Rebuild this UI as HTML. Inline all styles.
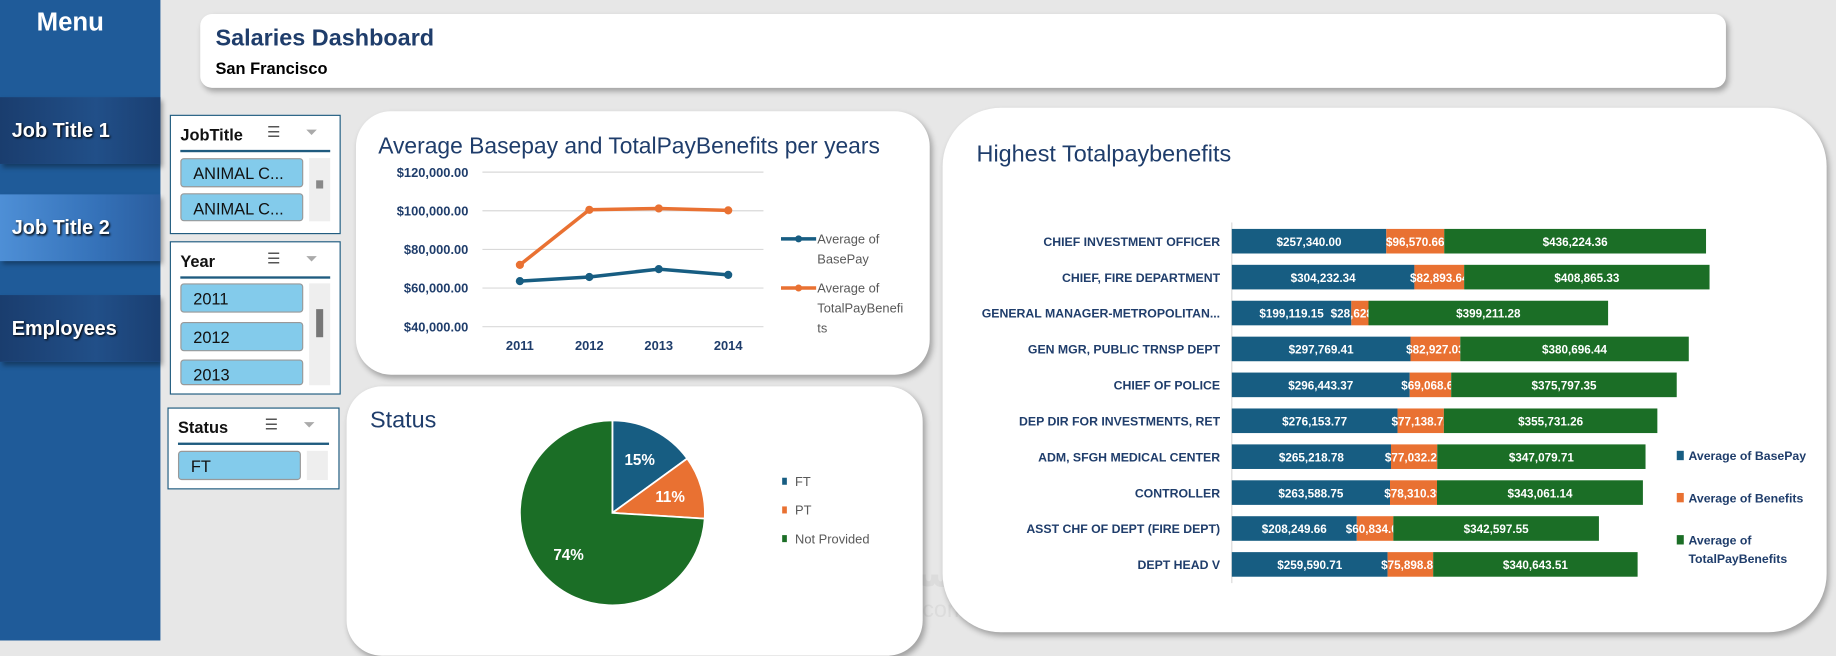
<!DOCTYPE html>
<html><head><meta charset="utf-8">
<style>
html,body{margin:0;padding:0;width:1836px;height:641px;overflow:hidden;background:#e7e7e7;font-family:"Liberation Sans Narrow","Liberation Sans",sans-serif;}
#wrap{position:absolute;left:0;top:0;width:1568px;height:547px;transform:scale(1.17092);transform-origin:0 0;}
.abs{position:absolute;}
.side{left:0;top:0;width:137px;height:547px;background:#1f5b99;}
.menu{left:0;width:120px;top:6px;text-align:center;color:#fff;font-weight:bold;font-size:22px;}
.btn{left:0;width:137px;height:57px;color:#fff;font-weight:bold;font-size:17px;line-height:57px;padding-left:10px;box-sizing:border-box;box-shadow:2px 3px 4px rgba(0,0,0,.35);text-shadow:1px 1px 2px #000;}
.dark{background:linear-gradient(90deg,#1a3d6e,#214f88 60%,#1a3f72);}
.light{background:linear-gradient(90deg,#4e8fd6,#3572b9 60%,#2a5d9e);}
.card{background:#fff;box-shadow:2px 3px 5px rgba(0,0,0,.3);}
.slicer{background:#fff;border:1px solid #1f5b7f;box-sizing:border-box;}
.sh{position:absolute;left:8px;top:8px;font-weight:bold;font-size:14px;color:#111;}
.sl{position:absolute;left:8px;right:8px;top:29px;border-top:2px solid #1f5b7f;}
.item{position:absolute;left:8px;width:105px;height:25px;background:#83cbeb;border:1px solid #999;border-radius:3px;font-size:14px;color:#111;line-height:25px;padding-left:10px;box-sizing:border-box;}
.scr{position:absolute;left:118px;width:18px;background:#eee;}
.ico{position:absolute;top:6px;font-size:13px;color:#555;}
</style></head><body>
<div id="wrap">
<div class="abs side"></div>
<div class="abs menu">Menu</div>
<div class="abs btn dark" style="top:83px">Job Title 1</div>
<div class="abs btn light" style="top:166px">Job Title 2</div>
<div class="abs btn dark" style="top:252px">Employees</div>

<div class="abs card" style="left:171px;top:12px;width:1303px;height:63px;border-radius:10px">
 <div class="abs" style="left:13px;top:10px;font-size:20px;font-weight:bold;color:#1f3d6b">Salaries Dashboard</div>
 <div class="abs" style="left:13px;top:38px;font-size:14px;font-weight:bold;color:#000">San Francisco</div>
</div>

<div class="abs slicer" style="left:145px;top:98px;width:146px;height:102px">
 <div class="sh">JobTitle</div><div class="ico" style="left:82px">☰</div><div class="ico" style="left:115px;color:#aaa">⏷</div><div class="sl"></div>
 <div class="item" style="top:36px">ANIMAL C...</div>
 <div class="item" style="top:66px;height:24px">ANIMAL C...</div>
 <div class="scr" style="top:36px;height:54px"><div style="position:absolute;left:6px;top:19px;width:6px;height:7px;background:#888"></div></div>
</div>
<div class="abs slicer" style="left:145px;top:206px;width:146px;height:131px">
 <div class="sh">Year</div><div class="ico" style="left:82px">☰</div><div class="ico" style="left:115px;color:#aaa">⏷</div><div class="sl"></div>
 <div class="item" style="top:35px">2011</div>
 <div class="item" style="top:68px">2012</div>
 <div class="item" style="top:100px;height:22px">2013</div>
 <div class="scr" style="top:35px;height:87px"><div style="position:absolute;left:6px;top:22px;width:6px;height:24px;background:#777"></div></div>
</div>
<div class="abs slicer" style="left:143px;top:348px;width:147px;height:70px">
 <div class="sh">Status</div><div class="ico" style="left:82px">☰</div><div class="ico" style="left:115px;color:#aaa">⏷</div><div class="sl"></div>
 <div class="item" style="top:36px">FT</div>
 <div class="scr" style="top:36px;height:25px"></div>
</div>

<div class="abs" style="left:712px;top:470px;font-size:34px;font-weight:bold;color:#dcdcdc;font-family:'DejaVu Sans',sans-serif">مستقل</div>
<div class="abs" style="left:712px;top:510px;font-size:20px;color:#dcdcdc">mostaql.com</div>

<div class="abs card" style="left:304px;top:95px;width:490px;height:225px;border-radius:30px"></div>
<div class="abs card" style="left:296px;top:330px;width:492px;height:230px;border-radius:30px"></div>
<div class="abs card" style="left:805px;top:92px;width:755px;height:448px;border-radius:50px"></div>

<svg id="chart" class="abs" style="left:0;top:0" width="1568" height="547" font-family="Liberation Sans Narrow, Liberation Sans, sans-serif"></svg>
</div>
<script>
const years=["2011","2012","2013","2014"];
const basePay=[63600,65700,69800,66800];
const totalPay=[72000,100500,101200,100200];
const yTicks=[40000,60000,80000,100000,120000];
const pieLabels=["FT","PT","Not Provided"];
const pieValues=[15,11,74];
const jobs=["CHIEF INVESTMENT OFFICER","CHIEF, FIRE DEPARTMENT","GENERAL MANAGER-METROPOLITAN...","GEN MGR, PUBLIC TRNSP DEPT","CHIEF OF POLICE","DEP DIR FOR INVESTMENTS, RET","ADM, SFGH MEDICAL CENTER","CONTROLLER","ASST CHF OF DEPT (FIRE DEPT)","DEPT HEAD V"];
const barBase=[257340.00,304232.34,199119.15,297769.41,296443.37,276153.77,265218.78,263588.75,208249.66,259590.71];
const barBenefits=[96570.66,82893.64,28628.62,82927.03,69068.62,77138.72,77032.26,78310.39,60834.07,75898.81];
const barTotal=[436224.36,408865.33,399211.28,380696.44,375797.35,355731.26,347079.71,343061.14,342597.55,340643.51];

const svg=document.getElementById('chart');
const NS='http://www.w3.org/2000/svg';
function mk(tag,attrs,parent){const e=document.createElementNS(NS,tag);for(const k in attrs)e.setAttribute(k,attrs[k]);(parent||svg).appendChild(e);return e;}
function txt(s,attrs){const e=mk('text',attrs);e.textContent=s;return e;}
const fmt=v=>'$'+v.toLocaleString('en-US',{minimumFractionDigits:2,maximumFractionDigits:2});
const BLUE='#175d82',ORANGE='#e97132',GREEN='#1b6e26',NAVY='#1f3d6b';

// Line chart
let t=txt('Average Basepay and TotalPayBenefits per years',{x:323,y:131,'font-size':19.5,fill:NAVY});

const yS=v=>279-(v-40000)/20000*33;
const xS=i=>444+i*59.3;
yTicks.forEach(v=>{
 const g=mk('line',{x1:412,x2:652,y1:yS(v),y2:yS(v),stroke:'#d9d9d9'});
 
 const l=txt(fmt(v),{x:400,y:yS(v)+4,'text-anchor':'end','font-size':11,'font-weight':'bold',fill:NAVY});
 
});
years.forEach((y,i)=>{const l=txt(y,{x:xS(i),y:299,'text-anchor':'middle','font-size':11,'font-weight':'bold',fill:NAVY});
 });
[[basePay,BLUE,'basepay'],[totalPay,ORANGE,'totalpay']].forEach(([arr,c,n])=>{
 const p=mk('polyline',{points:arr.map((v,i)=>xS(i)+','+yS(v)).join(' '),fill:'none',stroke:c,'stroke-width':3});
 
 arr.forEach((v,i)=>{const d=mk('circle',{cx:xS(i),cy:yS(v),r:3.5,fill:c});
  });
});
[[204,BLUE,['Average of','BasePay']],[246,ORANGE,['Average of','TotalPayBenefi','ts']]].forEach(([y,c,ls],k)=>{
 const l=mk('line',{x1:667,x2:697,y1:y,y2:y,stroke:c,'stroke-width':3});
 
 mk('circle',{cx:682,cy:y,r:3,fill:c});
 ls.forEach((s,j)=>{const e=txt(s,{x:698,y:y+4+j*17,'font-size':11,fill:'#595959'});
  });
});

// Pie
t=txt('Status',{x:316,y:365,'font-size':20,fill:NAVY});

const cx=523,cy=438,R=79,pc=[BLUE,ORANGE,GREEN];
const tot=pieValues.reduce((a,b)=>a+b,0);let a0=-Math.PI/2;
pieValues.forEach((v,i)=>{
 const a1=a0+v/tot*2*Math.PI;
 const large=(a1-a0)>Math.PI?1:0;
 const p=mk('path',{d:`M${cx},${cy} L${cx+R*Math.cos(a0)},${cy+R*Math.sin(a0)} A${R},${R} 0 ${large} 1 ${cx+R*Math.cos(a1)},${cy+R*Math.sin(a1)} Z`,fill:pc[i],stroke:'#fff','stroke-width':1.5});
 
 const am=(a0+a1)/2,rr=R*0.65;
 const l=txt(Math.round(v)+'%',{x:cx+rr*Math.cos(am),y:cy+rr*Math.sin(am)+5,'text-anchor':'middle','font-size':13,'font-weight':'bold',fill:'#fff'});
 
 a0=a1;
});
pieLabels.forEach((s,i)=>{const y=412+i*24.5;
 const r=mk('rect',{x:668,y:y-4,width:4,height:6,fill:pc[i]});
 
 const e=txt(s,{x:679,y:y+3,'font-size':11,fill:'#595959'});
 });

// Bar chart
t=txt('Highest Totalpaybenefits',{x:834,y:138,'font-size':20,fill:NAVY});

const x0=1052,k=405/790135,bh=21;
const rowY=i=>206+i*30.67;
mk('line',{x1:x0,x2:x0,y1:190,y2:498,stroke:'#d9d9d9'});
jobs.forEach((j,i)=>{
 const y=rowY(i);
 const l=txt(j,{x:1042,y:y+4,'text-anchor':'end','font-size':10.5,'font-weight':'bold',fill:NAVY});
 
 let x=x0;
 [[barBase[i],BLUE,'basepay'],[barBenefits[i],ORANGE,'benefits'],[barTotal[i],GREEN,'totalpay']].forEach(([v,c,n])=>{
  const w=v*k;
  const r=mk('rect',{x:x,y:y-bh/2,width:w,height:bh,fill:c});
  
  const e=txt(fmt(v),{x:x+w/2,y:y+4,'text-anchor':'middle','font-size':10,'font-weight':'bold',fill:'#fff'});
  
  x+=w;
 });
});
[[389,BLUE,['Average of BasePay']],[425,ORANGE,['Average of Benefits']],[461,GREEN,['Average of','TotalPayBenefits']]].forEach(([y,c,ls])=>{
 const r=mk('rect',{x:1432,y:y-4,width:6,height:8,fill:c});
 
 ls.forEach((s,j)=>{const e=txt(s,{x:1442,y:y+4+j*16,'font-size':10.5,'font-weight':'bold',fill:NAVY});
  });
});
</script>
</body></html>
